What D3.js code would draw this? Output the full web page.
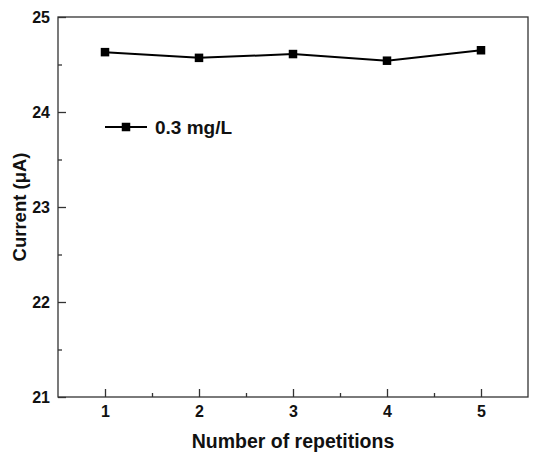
<!DOCTYPE html>
<html lang="en">
<head>
<meta charset="utf-8">
<title>Current vs repetitions</title>
<script src="https://cdnjs.cloudflare.com/ajax/libs/d3/7.8.5/d3.min.js"></script>
<style>
  body { margin: 0; background: #fff; }
  text { font-family: "Liberation Sans", Arial, sans-serif; font-weight: bold; fill: #111; }
  .frame { fill: none; stroke: #333; stroke-width: 1.3px; }
  .tick line { stroke: #333; stroke-width: 1.3px; }
  .series { fill: none; stroke: #000; stroke-width: 2px; }
</style>
</head>
<body>
<div id="chart"></div>
<script>
// data
var repetitions = [1, 2, 3, 4, 5];
var current = [24.63, 24.57, 24.61, 24.54, 24.65];
var seriesName = "0.3 mg/L";
var yTicks = [21, 22, 23, 24, 25];
var yMinor = [21.5, 22.5, 23.5, 24.5];
var xMinor = [1.5, 2.5, 3.5, 4.5];

var W = 538, H = 462;
var mLeft = 58, mRight = 528, mTop = 17, mBottom = 397;

var svg = d3.select("#chart").append("svg")
  .attr("width", W).attr("height", H);

var x = d3.scaleLinear().domain([0.5, 5.5]).range([mLeft, mRight]);
var y = d3.scaleLinear().domain([21, 25]).range([mBottom, mTop]);

// x axis, ticks pointing inside
var gx = svg.append("g").attr("transform", "translate(0," + mBottom + ")")
  .call(d3.axisBottom(x).tickValues(repetitions).tickSizeInner(-8).tickSizeOuter(0)
    .tickPadding(9).tickFormat(d3.format("d")));
gx.select(".domain").remove();
gx.selectAll("text").style("font-size", "16px");
svg.append("g").attr("transform", "translate(0," + mBottom + ")")
  .call(d3.axisBottom(x).tickValues(xMinor).tickSizeInner(-4).tickSizeOuter(0).tickFormat(""))
  .select(".domain").remove();

// y axis
var gy = svg.append("g").attr("transform", "translate(" + mLeft + ",0)")
  .call(d3.axisLeft(y).tickValues(yTicks).tickSizeInner(-8).tickSizeOuter(0)
    .tickPadding(8).tickFormat(d3.format("d")));
gy.select(".domain").remove();
gy.selectAll("text").style("font-size", "16px");
svg.append("g").attr("transform", "translate(" + mLeft + ",0)")
  .call(d3.axisLeft(y).tickValues(yMinor).tickSizeInner(-4).tickSizeOuter(0).tickFormat(""))
  .select(".domain").remove();

// frame
svg.append("rect").attr("class", "frame")
  .attr("x", mLeft).attr("y", mTop)
  .attr("width", mRight - mLeft).attr("height", mBottom - mTop);

// series
var pts = repetitions.map(function(d, i) { return [d, current[i]]; });
var line = d3.line().x(function(d) { return x(d[0]); }).y(function(d) { return y(d[1]); });
svg.append("path").datum(pts).attr("class", "series").attr("d", line);

var ms = 8.5;
svg.selectAll(".pt").data(pts).enter().append("rect")
  .attr("class", "pt")
  .attr("x", function(d) { return x(d[0]) - ms / 2; })
  .attr("y", function(d) { return y(d[1]) - ms / 2; })
  .attr("width", ms).attr("height", ms)
  .attr("fill", "#000");

// legend
var lg = svg.append("g").attr("transform", "translate(105,127)");
lg.append("line").attr("x1", 0).attr("x2", 42).attr("y1", 0).attr("y2", 0)
  .attr("stroke", "#000").attr("stroke-width", 2);
lg.append("rect").attr("x", 21 - ms / 2).attr("y", -ms / 2)
  .attr("width", ms).attr("height", ms).attr("fill", "#000");
lg.append("text").attr("x", 50).attr("y", 6.5).style("font-size", "19px").text(seriesName);

// axis titles
svg.append("text")
  .attr("x", (mLeft + mRight) / 2).attr("y", 448)
  .attr("text-anchor", "middle").style("font-size", "19.5px")
  .text("Number of repetitions");
svg.append("text")
  .attr("transform", "translate(26," + ((mTop + mBottom) / 2) + ") rotate(-90)")
  .attr("text-anchor", "middle").style("font-size", "18.5px")
  .text("Current (μA)");
</script>
</body>
</html>
